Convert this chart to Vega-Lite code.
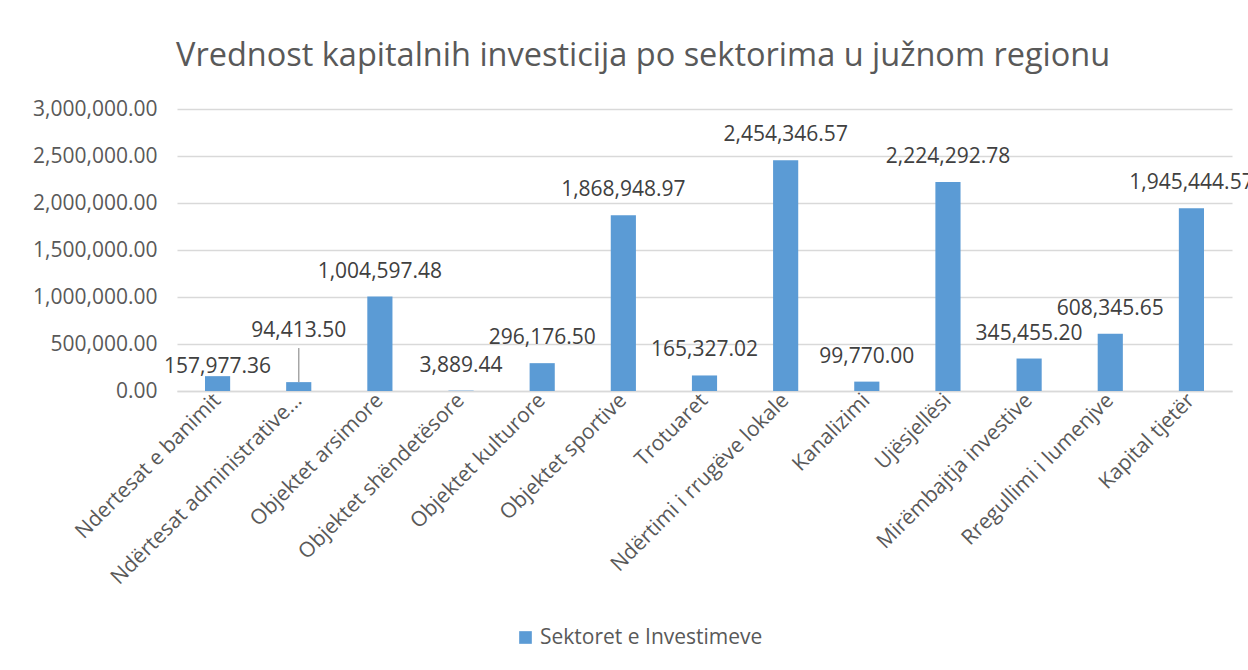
{
  "$schema": "https://vega.github.io/schema/vega-lite/v6.json",
  "autosize": {"type": "none"},
  "width": 1055,
  "height": 282,
  "padding": {"left": 177, "top": 109, "right": 16, "bottom": 279},
  "background": "white",
  "title": {
    "text": "Vrednost kapitalnih investicija po sektorima u južnom regionu",
    "font": "Open Sans",
    "fontSize": 32.5,
    "fontWeight": "normal",
    "color": "#595959",
    "anchor": "middle",
    "frame": "bounds",
    "offset": 26
  },
  "data": {
    "values": [
      {"sektor": "Ndertesat e banimit", "vlera": 157977.36},
      {"sektor": "Ndërtesat administrative...", "vlera": 94413.50},
      {"sektor": "Objektet arsimore", "vlera": 1004597.48},
      {"sektor": "Objektet shëndetësore", "vlera": 3889.44},
      {"sektor": "Objektet kulturore", "vlera": 296176.50},
      {"sektor": "Objektet sportive", "vlera": 1868948.97},
      {"sektor": "Trotuaret", "vlera": 165327.02},
      {"sektor": "Ndërtimi i rrugëve lokale", "vlera": 2454346.57},
      {"sektor": "Kanalizimi", "vlera": 99770.00},
      {"sektor": "Ujësjellësi", "vlera": 2224292.78},
      {"sektor": "Mirëmbajtja investive", "vlera": 345455.20},
      {"sektor": "Rregullimi i lumenjve", "vlera": 608345.65},
      {"sektor": "Kapital tjetër", "vlera": 1945444.57}
    ]
  },
  "encoding": {
    "x": {
      "field": "sektor",
      "type": "nominal",
      "sort": null,
      "scale": {"paddingInner": 0.69, "paddingOuter": 0.345},
      "axis": {
        "title": null,
        "labelAngle": -45,
        "labelAlign": "right",
        "labelBaseline": "middle",
        "labelFont": "Open Sans",
        "labelFontSize": 21,
        "labelColor": "#595959",
        "labelPadding": 6,
        "labelLimit": 400,
        "ticks": false,
        "domainColor": "#d9d9d9",
        "domainWidth": 1.5
      }
    },
    "y": {
      "field": "vlera",
      "type": "quantitative",
      "scale": {"domain": [0, 3000000], "nice": false},
      "axis": {
        "title": null,
        "values": [0, 500000, 1000000, 1500000, 2000000, 2500000, 3000000],
        "format": ",.2f",
        "labelFont": "Open Sans",
        "labelFontSize": 21,
        "labelColor": "#595959",
        "labelPadding": 20,
        "ticks": false,
        "domain": false,
        "gridColor": "#d9d9d9",
        "gridWidth": 1.5
      }
    }
  },
  "layer": [
    {
      "mark": {"type": "bar"},
      "encoding": {
        "color": {
          "datum": "Sektoret e Investimeve",
          "type": "nominal",
          "scale": {"range": ["#5b9bd5"]},
          "legend": {
            "title": null,
            "orient": "none",
            "legendX": 338,
            "legendY": 518,
            "symbolType": "square",
            "symbolSize": 160,
            "symbolStrokeWidth": 0,
            "labelFont": "Open Sans",
            "labelFontSize": 21,
            "labelColor": "#595959",
            "labelOffset": 4,
            "labelLimit": 500
          }
        }
      }
    },
    {
      "transform": [{"filter": "datum.sektor === 'Ndërtesat administrative...'"}],
      "mark": {"type": "rule", "color": "#a6a6a6", "strokeWidth": 1.5},
      "encoding": {
        "y2": {"datum": 457000}
      }
    },
    {
      "transform": [{"filter": "datum.sektor !== 'Ndërtesat administrative...' && datum.sektor !== 'Ndertesat e banimit'"}],
      "mark": {
        "type": "text",
        "baseline": "middle",
        "dy": -25,
        "font": "Open Sans",
        "fontSize": 21,
        "color": "#404040"
      },
      "encoding": {
        "text": {"field": "vlera", "type": "quantitative", "format": ",.2f"}
      }
    },
    {
      "transform": [{"filter": "datum.sektor === 'Ndertesat e banimit'"}],
      "mark": {
        "type": "text",
        "baseline": "middle",
        "dy": -9,
        "font": "Open Sans",
        "fontSize": 21,
        "color": "#404040"
      },
      "encoding": {
        "text": {"field": "vlera", "type": "quantitative", "format": ",.2f"}
      }
    },
    {
      "transform": [{"filter": "datum.sektor === 'Ndërtesat administrative...'"}],
      "mark": {
        "type": "text",
        "baseline": "middle",
        "dy": -51,
        "font": "Open Sans",
        "fontSize": 21,
        "color": "#404040"
      },
      "encoding": {
        "text": {"field": "vlera", "type": "quantitative", "format": ",.2f"}
      }
    }
  ],
  "config": {
    "view": {"stroke": null}
  }
}
